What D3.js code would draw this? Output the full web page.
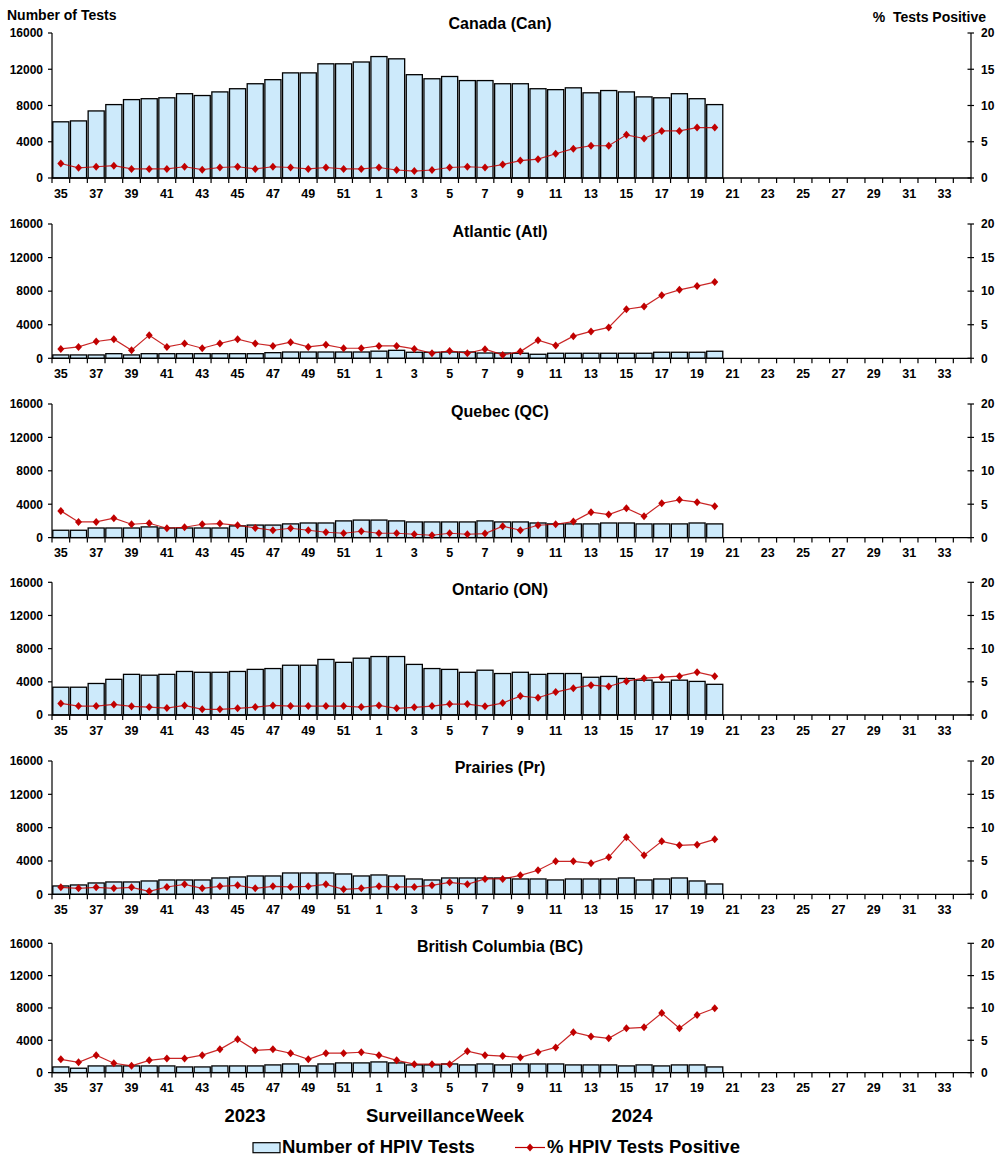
<!DOCTYPE html>
<html><head><meta charset="utf-8">
<script src="https://cdn.jsdelivr.net/npm/d3@7"></script>
<style>
html,body{margin:0;padding:0;background:#fff;}
svg{display:block;font-family:"Liberation Sans",Arial,sans-serif;}
</style></head>
<body>
<svg id="chart" width="1002" height="1170"></svg>
<script>
// ---------- data ----------
const weeks = [35,36,37,38,39,40,41,42,43,44,45,46,47,48,49,50,51,52,
  1,2,3,4,5,6,7,8,9,10,11,12,13,14,15,16,17,18,19,20,21,22,23,24,25,26,27,28,29,30,31,32,33,34].map(String);
const weekTickLabels = weeks.filter((w,i)=>i%2===0);

const canTests = [6200,6300,7400,8100,8650,8750,8850,9300,9100,9500,9850,10400,10850,11600,11600,12600,12600,12800,
  13400,13150,11400,10950,11200,10750,10750,10400,10400,9850,9750,9950,9400,9650,9500,8950,8850,9300,8750,8100];
const canPct = [2.0,1.4,1.55,1.7,1.25,1.25,1.25,1.55,1.15,1.45,1.55,1.25,1.55,1.45,1.25,1.45,1.25,1.25,
  1.45,1.1,0.95,1.1,1.45,1.55,1.45,1.85,2.4,2.6,3.35,4.05,4.45,4.45,5.95,5.45,6.5,6.5,6.95,6.95];

const atlTests = [400,400,400,550,400,550,550,550,550,550,550,550,670,750,750,750,750,750,
  850,950,720,720,750,750,630,630,600,480,600,600,600,600,600,600,720,720,720,840];
const atlPct = [1.4,1.7,2.5,2.85,1.2,3.45,1.7,2.2,1.5,2.2,2.85,2.2,1.85,2.4,1.7,2.0,1.5,1.5,
  1.85,1.85,1.4,0.75,1.1,0.75,1.35,0.5,1.0,2.7,1.9,3.3,4.0,4.6,7.3,7.7,9.4,10.2,10.75,11.35];

const qcTests = [880,880,1150,1150,1150,1280,1150,1150,1150,1150,1400,1500,1500,1640,1750,1750,2000,2100,
  2100,2000,1875,1875,1875,1875,2000,1875,1875,1750,1640,1640,1640,1750,1750,1640,1640,1640,1750,1640];
const qcPct = [4.0,2.35,2.35,2.9,2.0,2.15,1.4,1.55,2.0,2.1,1.85,1.45,1.1,1.4,1.1,0.8,0.65,0.95,
  0.65,0.65,0.5,0.35,0.65,0.5,0.6,1.7,1.1,1.85,2.0,2.4,3.8,3.45,4.4,3.2,5.15,5.65,5.3,4.7];

const onTests = [3350,3350,3800,4300,4900,4800,4900,5250,5150,5150,5250,5500,5600,6000,6000,6700,6350,6850,
  7050,7050,6100,5600,5500,5150,5400,5000,5150,4900,5000,5000,4550,4650,4400,4200,3950,4200,4050,3700];
const onPct = [1.75,1.35,1.35,1.6,1.3,1.2,1.05,1.45,0.85,0.85,1.0,1.2,1.45,1.35,1.35,1.35,1.35,1.2,
  1.45,1.0,1.15,1.35,1.65,1.65,1.3,1.8,2.85,2.6,3.45,4.05,4.5,4.3,5.1,5.55,5.7,5.85,6.45,5.85];

const prTests = [1000,1120,1360,1480,1480,1600,1720,1720,1720,1960,2080,2200,2200,2560,2560,2560,2440,2200,
  2320,2200,1840,1720,1960,1960,1960,1960,1840,1840,1720,1840,1840,1840,1960,1720,1840,1960,1600,1240];
const prPct = [1.05,0.9,1.05,0.9,1.05,0.45,1.1,1.5,0.9,1.2,1.35,0.9,1.2,1.1,1.2,1.5,0.75,0.9,
  1.2,1.1,1.1,1.35,1.8,1.5,2.3,2.3,2.85,3.6,4.95,4.95,4.65,5.55,8.55,5.85,7.95,7.35,7.45,8.25];

const bcTests = [700,540,825,825,825,825,825,700,700,825,825,825,950,1070,825,1070,1200,1200,
  1320,1200,950,950,1070,950,1070,950,1070,1070,1070,950,950,950,825,950,825,950,950,700];
const bcPct = [2.05,1.6,2.7,1.45,1.05,1.9,2.2,2.2,2.7,3.6,5.15,3.45,3.6,3.0,2.05,3.0,3.0,3.15,
  2.7,1.9,1.3,1.3,1.3,3.3,2.7,2.55,2.35,3.15,3.9,6.25,5.6,5.3,6.85,7.0,9.2,6.85,8.9,9.95];

const regionTitles = ["Canada (Can)","Atlantic (Atl)","Quebec (QC)","Ontario (ON)","Prairies (Pr)","British Columbia (BC)"];
const testsTicks = [0,4000,8000,12000,16000];
const pctTicks = [0,5,10,15,20];
const yearLabels = ["2023","Surveillance Week","2024"];
const legendLabels = ["Number of HPIV Tests","% HPIV Tests Positive"];

// ---------- layout ----------
const seriesTests = [canTests,atlTests,qcTests,onTests,prTests,bcTests];
const seriesPct = [canPct,atlPct,qcPct,onPct,prPct,bcPct];
const layout = [
  {top:33, bottom:178, titleY:28.5},
  {top:224, bottom:358.3, titleY:236.7},
  {top:404, bottom:537.6, titleY:416.7},
  {top:582.3, bottom:715, titleY:595},
  {top:761, bottom:894.3, titleY:773.3},
  {top:943.3, bottom:1072.6, titleY:951.7}
];
const X0 = 52, X1 = 971;
const barFill = "#cdeafb", lineCol = "#c00000";

const svg = d3.select("#chart");
const x = d3.scaleBand().domain(weeks).range([X0, X1]).paddingInner(0.09).paddingOuter(0.045);
const step = x.step();
const boundaries = d3.range(weeks.length + 1).map(i => X0 + i * (X1 - X0) / weeks.length);

seriesTests.forEach((tests, p) => {
  const L = layout[p];
  const yL = d3.scaleLinear().domain([0,16000]).range([L.bottom, L.top]);
  const yR = d3.scaleLinear().domain([0,20]).range([L.bottom, L.top]);
  const g = svg.append("g");
  const data = tests.map((v,i)=>({w:weeks[i], v, pct: seriesPct[p][i]}));

  // bars
  g.selectAll("rect.bar").data(data).enter().append("rect")
    .attr("x", d => x(d.w)).attr("width", x.bandwidth())
    .attr("y", d => yL(d.v)).attr("height", d => L.bottom - yL(d.v))
    .attr("fill", barFill).attr("stroke", "#000").attr("stroke-width", 1.3);

  // left axis
  g.append("line").attr("x1", X0).attr("x2", X0).attr("y1", L.top).attr("y2", L.bottom)
    .attr("stroke", "#000").attr("stroke-width", 1.2);
  testsTicks.forEach(t => {
    g.append("line").attr("x1", X0-4).attr("x2", X0).attr("y1", yL(t)).attr("y2", yL(t)).attr("stroke","#000").attr("stroke-width",1.2);
    g.append("text").attr("x", X0-9).attr("y", yL(t)+4.3).attr("text-anchor","end")
      .attr("font-size",12).attr("font-weight","bold").text(t);
  });
  // right axis
  g.append("line").attr("x1", X1).attr("x2", X1).attr("y1", L.top).attr("y2", L.bottom)
    .attr("stroke", "#000").attr("stroke-width", 1.2);
  pctTicks.forEach(t => {
    g.append("line").attr("x1", X1-3.5).attr("x2", X1+3).attr("y1", yR(t)).attr("y2", yR(t)).attr("stroke","#000").attr("stroke-width",1.2);
    g.append("text").attr("x", X1+10).attr("y", yR(t)+4.3).attr("text-anchor","start")
      .attr("font-size",12).attr("font-weight","bold").text(t);
  });
  // x axis
  g.append("line").attr("x1", X0).attr("x2", X1).attr("y1", L.bottom).attr("y2", L.bottom)
    .attr("stroke","#000").attr("stroke-width",1.3);
  boundaries.forEach(bx => {
    g.append("line").attr("x1", bx).attr("x2", bx).attr("y1", L.bottom).attr("y2", L.bottom+5)
      .attr("stroke","#000").attr("stroke-width",1.2);
  });
  weekTickLabels.forEach(w => {
    g.append("text").attr("x", x(w) + x.bandwidth()/2).attr("y", L.bottom + 19.5)
      .attr("text-anchor","middle").attr("font-size",12.5).attr("font-weight","bold").text(w);
  });

  // line
  const line = d3.line().x(d => x(d.w) + x.bandwidth()/2).y(d => yR(d.pct));
  g.append("path").datum(data).attr("d", line).attr("fill","none")
    .attr("stroke", lineCol).attr("stroke-width", 1.2).attr("stroke-opacity",0.85);
  g.selectAll("path.mk").data(data).enter().append("path")
    .attr("d","M0,-4L3.5,0L0,4L-3.5,0Z")
    .attr("transform", d => `translate(${x(d.w)+x.bandwidth()/2},${yR(d.pct)})`)
    .attr("fill", lineCol);

  // title
  g.append("text").attr("x", 500).attr("y", L.titleY).attr("text-anchor","middle")
    .attr("font-size",16).attr("font-weight","bold").text(regionTitles[p]);
});

// axis titles
svg.append("text").attr("x", 7).attr("y", 20).attr("font-size",14).attr("font-weight","bold").text("Number of Tests");
svg.append("text").attr("x", 986).attr("y", 21.5).attr("text-anchor","end").attr("font-size",14)
  .attr("font-weight","bold").attr("xml:space","preserve").style("white-space","pre").text("%  Tests Positive");

// bottom labels
const yearX = [245, 445, 632];
yearLabels.forEach((t,i) => {
  svg.append("text").attr("x", yearX[i]).attr("y", 1121.7).attr("text-anchor","middle")
    .attr("font-size",18.5).attr("font-weight","bold").attr("word-spacing", i===1 ? -4 : 0).text(t);
});

// legend
const lg = svg.append("g");
lg.append("rect").attr("x",253).attr("y",1142.7).attr("width",27).attr("height",10)
  .attr("fill",barFill).attr("stroke","#000").attr("stroke-width",1.2);
lg.append("text").attr("x",282).attr("y",1153).attr("font-size",18.5).attr("font-weight","bold").text(legendLabels[0]);
lg.append("line").attr("x1",515).attr("x2",545).attr("y1",1147.5).attr("y2",1147.5).attr("stroke",lineCol).attr("stroke-width",1.2);
lg.append("path").attr("d","M0,-4L3.5,0L0,4L-3.5,0Z").attr("transform","translate(530,1147.5)").attr("fill",lineCol);
lg.append("text").attr("x",547).attr("y",1153).attr("font-size",18.5).attr("font-weight","bold").text(legendLabels[1]);
</script>
</body></html>
